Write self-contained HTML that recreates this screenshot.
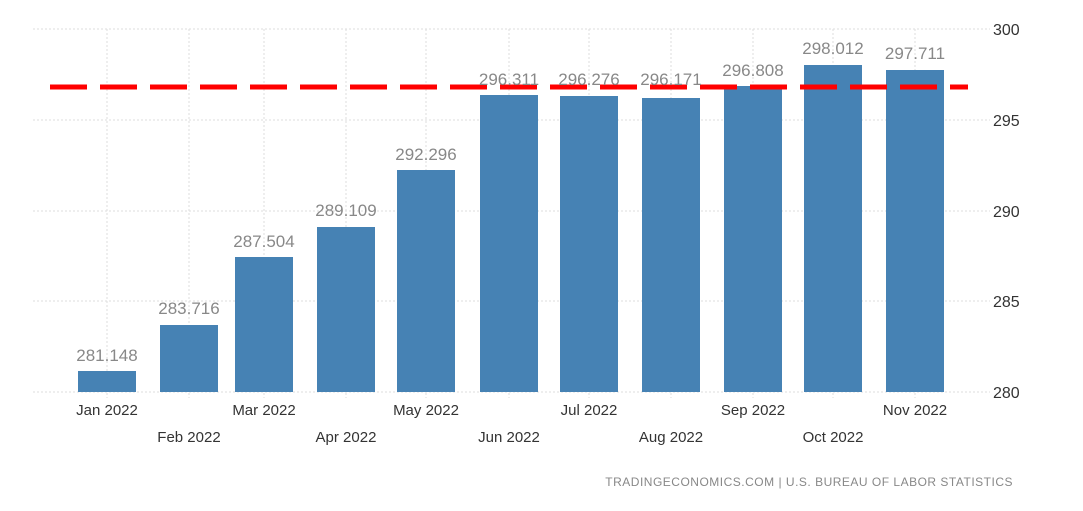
<!DOCTYPE html><html><head><style>body{margin:0;background:#fff}</style></head><body>
<svg width="1083" height="506" xmlns="http://www.w3.org/2000/svg" font-family="Liberation Sans, sans-serif">
<g stroke="#ddd" stroke-dasharray="2,2" stroke-width="1">
<line x1="33" y1="29" x2="990" y2="29"/><line x1="33" y1="120" x2="990" y2="120"/><line x1="33" y1="211" x2="990" y2="211"/><line x1="33" y1="301" x2="990" y2="301"/><line x1="33" y1="392" x2="990" y2="392"/>
<line x1="107" y1="29" x2="107" y2="398"/><line x1="189" y1="29" x2="189" y2="398"/><line x1="264" y1="29" x2="264" y2="398"/><line x1="346" y1="29" x2="346" y2="398"/><line x1="426" y1="29" x2="426" y2="398"/><line x1="509" y1="29" x2="509" y2="398"/><line x1="589" y1="29" x2="589" y2="398"/><line x1="671" y1="29" x2="671" y2="398"/><line x1="753" y1="29" x2="753" y2="398"/><line x1="833" y1="29" x2="833" y2="398"/><line x1="915" y1="29" x2="915" y2="398"/>
</g>
<g fill="#4682b4">
<rect x="78" y="371" width="58" height="21"/><rect x="160" y="325" width="58" height="67"/><rect x="235" y="257" width="58" height="135"/><rect x="317" y="227" width="58" height="165"/><rect x="397" y="170" width="58" height="222"/><rect x="480" y="95" width="58" height="297"/><rect x="560" y="96" width="58" height="296"/><rect x="642" y="98" width="58" height="294"/><rect x="724" y="86" width="58" height="306"/><rect x="804" y="65" width="58" height="327"/><rect x="886" y="70" width="58" height="322"/>
</g>
<line x1="50" y1="87" x2="968" y2="87" stroke="#f00" stroke-width="5" stroke-dasharray="37,13"/>
<g fill="#888" font-size="17" text-anchor="middle">
<text x="107" y="361">281.148</text><text x="189" y="314">283.716</text><text x="264" y="247">287.504</text><text x="346" y="216">289.109</text><text x="426" y="160">292.296</text><text x="509" y="85">296.311</text><text x="589" y="85">296.276</text><text x="671" y="85">296.171</text><text x="753" y="76">296.808</text><text x="833" y="54">298.012</text><text x="915" y="59">297.711</text>
</g>
<g fill="#333" font-size="15" text-anchor="middle">
<text x="107" y="415">Jan 2022</text><text x="189" y="442">Feb 2022</text><text x="264" y="415">Mar 2022</text><text x="346" y="442">Apr 2022</text><text x="426" y="415">May 2022</text><text x="509" y="442">Jun 2022</text><text x="589" y="415">Jul 2022</text><text x="671" y="442">Aug 2022</text><text x="753" y="415">Sep 2022</text><text x="833" y="442">Oct 2022</text><text x="915" y="415">Nov 2022</text>
</g>
<g fill="#333" font-size="16">
<text x="993" y="35">300</text><text x="993" y="126">295</text><text x="993" y="217">290</text><text x="993" y="307">285</text><text x="993" y="398">280</text>
</g>
<text x="1013" y="486" fill="#888" font-size="12" text-anchor="end" letter-spacing="0.5">TRADINGECONOMICS.COM | U.S. BUREAU OF LABOR STATISTICS</text>
</svg>
</body></html>
